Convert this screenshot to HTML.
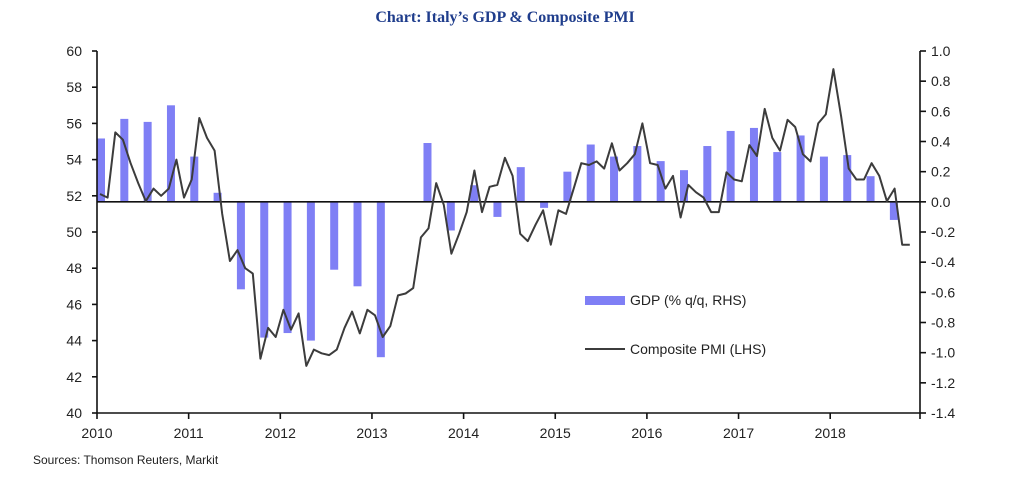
<!DOCTYPE html>
<html><head><meta charset="utf-8">
<style>
html,body{margin:0;padding:0;background:#fff;}
body{width:1009px;height:478px;overflow:hidden;font-family:"Liberation Sans",sans-serif;}
svg text{font-family:"Liberation Sans",sans-serif;}
</style></head>
<body>
<svg id="chart" width="1009" height="478" xmlns="http://www.w3.org/2000/svg">
<text x="505" y="22" text-anchor="middle" style="font-family:'Liberation Serif',serif" font-weight="bold" font-size="16" fill="#1f3d8c">Chart: Italy’s GDP &amp; Composite PMI</text>
<g id="bars"></g>
<g id="axes"></g>
<path id="pmi" fill="none" stroke="#3c3c3c" stroke-width="2" stroke-linejoin="round"/>
<g>
<rect x="585" y="296" width="40" height="9" fill="#7f7ff5"/>
<text x="630" y="305" font-size="14" fill="#222">GDP (% q/q, RHS)</text>
<line x1="585" y1="349" x2="625" y2="349" stroke="#3c3c3c" stroke-width="2"/>
<text x="630" y="354" font-size="14" fill="#222">Composite PMI (LHS)</text>
</g>
<text x="33" y="464" font-size="12" fill="#222">Sources: Thomson Reuters, Markit</text>
</svg>
<script>
const years = ["2010","2011","2012","2013","2014","2015","2016","2017","2018"];
const leftTicks = [40,42,44,46,48,50,52,54,56,58,60];
const rightTicks = ["-1.4","-1.2","-1.0","-0.8","-0.6","-0.4","-0.2","0.0","0.2","0.4","0.6","0.8","1.0"];
const gdp = [0.42,0.55,0.53,0.64, 0.30,0.06,-0.58,-0.90, -0.87,-0.92,-0.45,-0.56, -1.03,0.0,0.39,-0.19,
 0.11,-0.10,0.23,-0.04, 0.20,0.38,0.30,0.37, 0.27,0.21,0.37,0.47, 0.49,0.33,0.44,0.30, 0.31,0.17,-0.12];
const pmi = [52.1,51.9,55.5,55.1,53.8,52.7,51.7,52.4,52.0,52.4,54.0,51.9,
 52.9,56.3,55.2,54.5,51.0,48.4,49.0,48.0,47.7,43.0,44.7,44.2,
 45.7,44.6,45.5,42.6,43.5,43.3,43.2,43.5,44.7,45.6,44.4,45.7,
 45.4,44.2,44.8,46.5,46.6,46.9,49.7,50.2,52.7,51.5,48.8,49.9,
 51.1,53.4,51.1,52.5,52.6,54.1,53.1,49.9,49.5,50.4,51.2,49.3,
 51.2,51.0,52.4,53.8,53.7,53.9,53.5,54.9,53.4,53.8,54.3,56.0,
 53.8,53.7,52.4,53.1,50.8,52.6,52.2,51.9,51.1,51.1,53.3,52.9,
 52.8,54.8,54.2,56.8,55.2,54.5,56.2,55.8,54.3,53.9,56.0,56.5,
 59.0,56.4,53.5,52.9,52.9,53.8,53.1,51.7,52.4,49.3,49.3];

const NS="http://www.w3.org/2000/svg";
const X0=97, XR=920, YT=51, YB=413;
const yL = v => YB - (v-40)/20*(YB-YT);
const yR = v => YB - (v+1.4)/2.4*(YB-YT);
const xYear = i => X0 + i*91.65;
const xQ = i => X0 + i*23.32;
const xM = k => 100 + k*7.64;
function mk(tag, attrs, parent){const e=document.createElementNS(NS,tag);for(const k in attrs)e.setAttribute(k,attrs[k]);parent.appendChild(e);return e;}

const bars=document.getElementById('bars');
gdp.forEach((v,i)=>{
  if(v===0) return;
  const y0=yR(0), y1=yR(v);
  const r=mk('rect',{x:xQ(i),y:Math.min(y0,y1),width:8,height:Math.abs(y1-y0),fill:'#7f7ff5'},bars);
  
  
});

const ax=document.getElementById('axes');
const st={stroke:'#111','stroke-width':1.6};
mk('line',Object.assign({x1:X0,y1:YT,x2:X0,y2:YB},st),ax);
mk('line',Object.assign({x1:XR,y1:YT,x2:XR,y2:YB},st),ax);
mk('line',Object.assign({x1:X0,y1:YB,x2:XR,y2:YB},st),ax);
mk('line',Object.assign({x1:X0,y1:yR(0),x2:XR,y2:yR(0)},st),ax);
leftTicks.forEach(v=>{
  const y=yL(v);
  mk('line',Object.assign({x1:X0-5,y1:y,x2:X0,y2:y},st),ax);
  const t=mk('text',{x:82,y:y+5,'text-anchor':'end','font-size':14,fill:'#222'},ax);
  t.textContent=v;
  
  
});
rightTicks.forEach(s=>{
  const y=yR(parseFloat(s));
  mk('line',Object.assign({x1:XR,y1:y,x2:XR+6,y2:y},st),ax);
  const t=mk('text',{x:931,y:y+5,'font-size':14,fill:'#222'},ax);
  t.textContent=s;
  
  
});
years.forEach((s,i)=>{
  const x=xYear(i);
  mk('line',Object.assign({x1:x,y1:YB,x2:x,y2:YB+6},st),ax);
  const t=mk('text',{x:x,y:438,'text-anchor':'middle','font-size':14,fill:'#222'},ax);
  t.textContent=s;
  
  
});
mk('line',Object.assign({x1:XR,y1:YB,x2:XR,y2:YB+6},st),ax);

document.getElementById('pmi').setAttribute('d',pmi.map((v,k)=>(k?'L':'M')+xM(k).toFixed(1)+' '+yL(v).toFixed(1)).join(' '));
</script>
</body></html>
